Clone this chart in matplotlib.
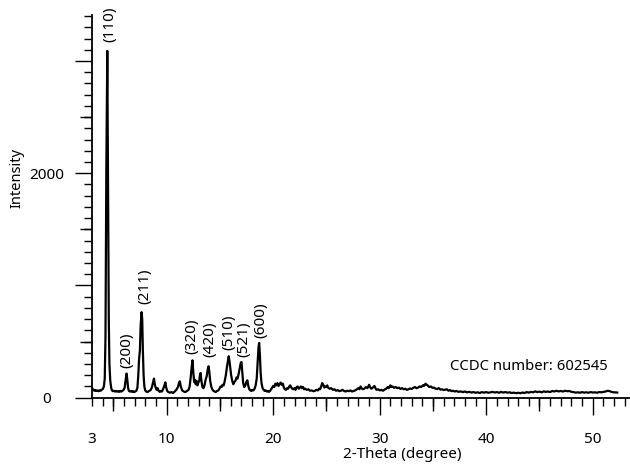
import matplotlib
matplotlib.use('Agg')
import matplotlib.pyplot as plt

# powder pattern (2-theta in degree, intensity in counts)
two_theta = [
    3.0, 3.1, 3.2, 3.3, 3.4, 3.5, 3.6, 3.7, 3.8, 3.9, 4.0, 4.1, 4.18,
    4.25, 4.33, 4.42, 4.50, 4.56, 4.62, 4.7, 4.78, 4.86,
    4.95, 5.05, 5.15, 5.25, 5.35, 5.45, 5.55, 5.65, 5.75, 5.85, 5.95, 6.05,
    6.13, 6.23, 6.3, 6.37, 6.45, 6.55, 6.65, 6.75, 6.85, 6.95, 7.05, 7.15,
    7.25, 7.33, 7.4, 7.48, 7.55, 7.64, 7.7, 7.76, 7.83, 7.9, 7.98, 8.08,
    8.2, 8.3, 8.4, 8.5, 8.6, 8.7, 8.8, 8.88, 8.96, 9.05, 9.15, 9.25, 9.35,
    9.45, 9.55, 9.65, 9.75, 9.87, 9.95, 10.05, 10.15, 10.3, 10.45, 10.6,
    10.75, 10.9, 11.05, 11.15, 11.23, 11.32, 11.45, 11.6, 11.75, 11.9,
    12.05, 12.15, 12.25, 12.35, 12.42, 12.5, 12.58, 12.65, 12.72, 12.8,
    12.88, 12.95, 13.05, 13.12, 13.18, 13.26, 13.35, 13.45, 13.55, 13.65,
    13.75, 13.85, 13.93, 14.0, 14.08, 14.18, 14.28, 14.4, 14.5, 14.6,
    14.72, 14.85, 14.95, 15.05, 15.15, 15.25, 15.35, 15.45, 15.55, 15.65,
    15.75, 15.82, 15.9, 15.98, 16.05, 16.15, 16.25, 16.35, 16.45, 16.55,
    16.65, 16.75, 16.85, 16.95, 17.02, 17.1, 17.18, 17.28, 17.38, 17.48,
    17.57, 17.65, 17.75, 17.85, 17.95, 18.05, 18.15, 18.25, 18.35, 18.45,
    18.55, 18.62, 18.68, 18.75, 18.82, 18.9, 19.0, 19.1, 19.2, 19.3, 19.4,
    19.5, 19.6, 19.7, 19.8, 19.9, 20.0, 20.1, 20.2, 20.3, 20.4, 20.5, 20.6,
    20.7, 20.8, 20.9, 21.0, 21.1, 21.2, 21.3, 21.4, 21.5, 21.6, 21.7, 21.8,
    21.9, 22.0, 22.1, 22.2, 22.3, 22.4, 22.5, 22.6, 22.7, 22.8, 22.9, 23.0,
    23.15, 23.3, 23.45, 23.6, 23.75, 23.9, 24.05, 24.2, 24.3, 24.4, 24.5,
    24.6, 24.7, 24.8, 24.9, 25.0, 25.07, 25.15, 25.3, 25.45, 25.6, 25.75,
    25.9, 26.05, 26.2, 26.35, 26.5, 26.65, 26.8, 26.95, 27.1, 27.25, 27.4,
    27.55, 27.7, 27.85, 28.0, 28.1, 28.2, 28.3, 28.4, 28.55, 28.7, 28.85,
    29.0, 29.1, 29.2, 29.3, 29.4, 29.5, 29.6, 29.7, 29.85, 30.0, 30.15,
    30.3, 30.45, 30.6, 30.75, 30.85, 31.0, 31.1, 31.2, 31.35, 31.5, 31.65,
    31.8, 31.95, 32.1, 32.25, 32.4, 32.55, 32.7, 32.85, 33.0, 33.15, 33.3,
    33.45, 33.6, 33.75, 33.9, 34.05, 34.15, 34.3, 34.4, 34.5, 34.65, 34.8,
    34.95, 35.1, 35.25, 35.4, 35.55, 35.7, 35.85, 36.0, 36.15, 36.3, 36.45,
    36.6, 36.75, 36.9, 37.05, 37.2, 37.4, 37.6, 37.8, 38.0, 38.2, 38.4,
    38.6, 38.8, 39.0, 39.2, 39.4, 39.6, 39.8, 40.0, 40.2, 40.4, 40.6, 40.8,
    41.0, 41.2, 41.4, 41.6, 41.8, 42.0, 42.2, 42.4, 42.6, 42.8, 43.0, 43.2,
    43.4, 43.6, 43.8, 44.0, 44.2, 44.4, 44.6, 44.8, 45.0, 45.2, 45.4, 45.6,
    45.8, 46.0, 46.2, 46.4, 46.6, 46.8, 47.0, 47.2, 47.4, 47.6, 47.8, 48.0,
    48.2, 48.4, 48.6, 48.8, 49.0, 49.2, 49.4, 49.6, 49.8, 50.0, 50.2, 50.4,
    50.6, 50.8, 51.0, 51.2, 51.4, 51.6, 51.8, 52.0, 52.3,
]
intensity = [
    85, 70, 62, 68, 60, 64, 58, 66, 62, 70, 78, 100, 170,
    540, 2040, 3090, 1650, 700, 300, 150, 90, 65,
    58, 62, 55, 60, 54, 58, 52, 60, 55, 62, 70, 90,
    150, 215, 160, 90, 60, 55, 60, 52, 58, 50, 56, 62,
    90, 200, 340, 420, 640, 762, 700, 420, 200, 100, 65, 55,
    50, 58, 62, 70, 90, 130, 170, 120, 90, 70, 85, 60, 52,
    60, 55, 75, 100, 137, 90, 60, 50, 45, 50, 42,
    55, 70, 95, 130, 146, 100, 65, 55, 50, 60,
    70, 100, 180, 280, 333, 220, 140, 160, 120, 150,
    110, 130, 150, 200, 220, 150, 95, 85, 110, 160,
    190, 250, 280, 230, 150, 100, 75, 60, 55, 50,
    60, 65, 80, 100, 95, 116, 110, 150, 200, 270,
    330, 369, 320, 260, 200, 150, 120, 140, 150, 180,
    170, 210, 260, 310, 318, 220, 130, 95, 110, 140,
    155, 110, 75, 65, 60, 70, 65, 80, 110, 170,
    330, 450, 488, 380, 220, 130, 85, 70, 60, 65, 55,
    60, 52, 60, 75, 90, 105, 95, 125, 110, 130, 105, 120,
    135, 115, 125, 90, 75, 70, 85, 80, 100, 110, 90, 80,
    75, 85, 70, 95, 100, 80, 90, 100, 85, 95, 75, 80,
    70, 75, 62, 65, 58, 60, 70, 65, 80, 75, 100,
    130, 115, 90, 100, 95, 110, 90, 80, 85, 70, 75,
    62, 68, 58, 62, 70, 60, 55, 62, 58, 65, 55,
    60, 65, 75, 85, 75, 100, 85, 75, 80, 95, 85,
    115, 95, 80, 85, 95, 105, 85, 70, 75, 65, 70,
    62, 72, 80, 95, 85, 110, 95, 100, 88, 95, 85,
    90, 78, 85, 75, 80, 70, 75, 82, 78, 88, 95,
    85, 90, 100, 95, 110, 105, 125, 115, 110, 95, 100,
    88, 90, 80, 78, 85, 72, 75, 68, 72, 75, 62,
    68, 58, 62, 55, 60, 52, 56, 50, 55, 48, 52,
    46, 50, 44, 48, 42, 50, 45, 50, 44, 48, 52, 46,
    50, 44, 52, 46, 50, 45, 48, 42, 45, 40, 44, 40,
    46, 42, 50, 45, 52, 48, 56, 50, 54, 48, 56, 52,
    55, 50, 60, 55, 62, 56, 60, 55, 62, 58, 60, 52,
    50, 45, 48, 44, 50, 45, 48, 44, 50, 46, 48, 44,
    50, 48, 52, 55, 62, 58, 50, 48, 46,
]

# Miller indices of the labelled reflections and where their labels sit
hkl = ['(110)', '(200)', '(211)', '(320)', '(420)', '(510)', '(521)', '(600)']
hkl_theta = [4.65, 6.3, 7.93, 12.4, 14.07, 15.88, 17.2, 18.86]
hkl_y = [3170, 262, 835, 390, 366, 425, 360, 530]

plt.rcParams['font.family'] = ['Noto Sans', 'DejaVu Sans']

fig = plt.figure(figsize=(6.3, 4.67), dpi=100)
ax = fig.add_axes([0.1463, 0.1484, 0.8537, 0.8195])

ax.plot(two_theta, intensity, color='black', linewidth=1.6)

for lab, tx, ty in zip(hkl, hkl_theta, hkl_y):
    ax.text(tx, ty, lab, rotation=90, ha='center', va='bottom', fontsize=11)

ax.set_xlim(3, 53.5)
ax.set_ylim(0, 3410)

for s in ['top', 'right']:
    ax.spines[s].set_visible(False)
for s in ['left', 'bottom']:
    ax.spines[s].set_linewidth(1.3)

ax.set_xticks([3, 10, 20, 30, 40, 50])
ax.set_xticks(range(3, 54), minor=True)
ax.set_yticks([0, 1000, 2000, 3000])
ax.set_yticklabels(['0', '', '2000', ''])
ax.set_yticks(range(0, 3401, 100), minor=True)
ax.tick_params(axis='both', which='major', length=12, width=1, labelsize=11)
ax.tick_params(axis='both', which='minor', length=6, width=1)
ax.tick_params(axis='x', which='major', pad=13)
ax.tick_params(axis='y', which='major', pad=21)
for t in ax.get_yticklabels():
    t.set_horizontalalignment('center')
ax.xaxis.get_major_ticks()[0].tick1line.set_markersize(6)

# medium ticks every 5 degree / 500 counts
sx = ax.secondary_xaxis('bottom')
sx.set_xticks([5, 15, 25, 35, 45])
sx.set_xticklabels([])
sx.tick_params(length=9, width=1)
sx.spines['bottom'].set_visible(False)
sy = ax.secondary_yaxis('left')
sy.set_yticks([500, 1500, 2500])
sy.set_yticklabels([])
sy.tick_params(length=9, width=1)
sy.spines['left'].set_visible(False)

fig.text(0.027, 0.619, 'Intensity', rotation=90, ha='center', va='center', fontsize=10.5)
fig.text(0.638, 0.026, '2-Theta (degree)', ha='center', va='center', fontsize=11)
fig.text(0.839, 0.216, 'CCDC number: 602545', ha='center', va='center', fontsize=10.7)

plt.savefig('out.png', dpi=100)
